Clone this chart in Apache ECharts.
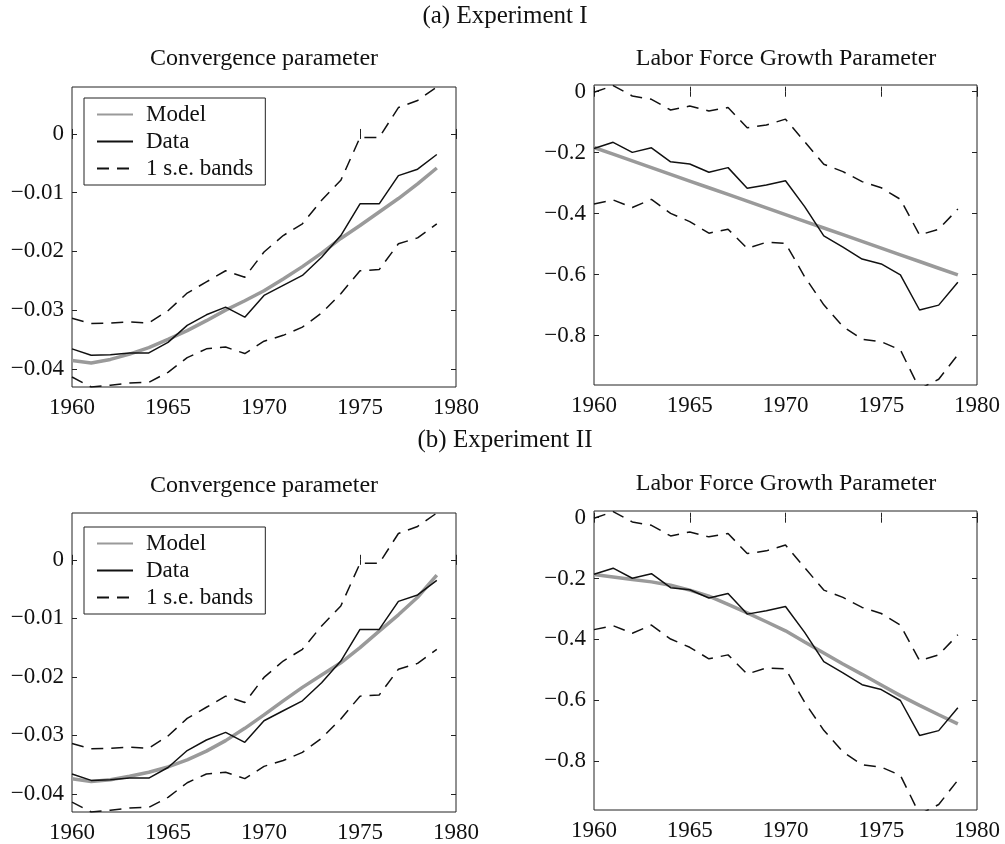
<!DOCTYPE html>
<html>
<head>
<meta charset="utf-8">
<title>Experiment I / II</title>
<script src="https://cdn.jsdelivr.net/npm/echarts@6/dist/echarts.min.js"></script>
<style>
	html, body { margin: 0; padding: 0; background: #fff; }
	#chart { width: 1005px; height: 844px; }
</style>
</head>
<body>
<div id="chart"></div>
<script>
	// years on the x axis
	var years = [1960, 1961, 1962, 1963, 1964, 1965, 1966, 1967, 1968, 1969,
		1970, 1971, 1972, 1973, 1974, 1975, 1976, 1977, 1978, 1979];

	// convergence parameter
	var convModelA = [-0.0386, -0.0390, -0.0384, -0.0375, -0.0364, -0.0350, -0.0335, -0.0318, -0.0300, -0.0284,
		-0.0267, -0.0247, -0.0226, -0.0203, -0.0178, -0.0156, -0.0133, -0.0110, -0.0085, -0.0058];
	var convModelB = [-0.0374, -0.0379, -0.0376, -0.0370, -0.0363, -0.0354, -0.0342, -0.0327, -0.0309, -0.0288,
		-0.0265, -0.0241, -0.0218, -0.0197, -0.0176, -0.0150, -0.0122, -0.0094, -0.0064, -0.0026];
	var convData = [-0.0366, -0.0377, -0.0376, -0.0373, -0.0373, -0.0355, -0.0326, -0.0308, -0.0295, -0.0312,
		-0.0275, -0.0258, -0.0241, -0.0210, -0.0173, -0.0119, -0.0119, -0.0071, -0.0060, -0.0035];
	var convUpper = [-0.0314, -0.0323, -0.0322, -0.0320, -0.0322, -0.0301, -0.0271, -0.0252, -0.0233, -0.0244,
		-0.0201, -0.0173, -0.0153, -0.0113, -0.0079, -0.0006, -0.0006, 0.0045, 0.0057, 0.0080];
	var convLower = [-0.0414, -0.0431, -0.0428, -0.0424, -0.0423, -0.0406, -0.0381, -0.0366, -0.0363, -0.0374,
		-0.0353, -0.0343, -0.0329, -0.0305, -0.0272, -0.0233, -0.0231, -0.0187, -0.0177, -0.0153];
	var convTicks = [-0.04, -0.03, -0.02, -0.01, 0];

	// labor force growth parameter
	var laborModelA = [-0.183, -0.205, -0.227, -0.249, -0.271, -0.293, -0.315, -0.337, -0.359, -0.381,
		-0.403, -0.425, -0.447, -0.469, -0.491, -0.513, -0.535, -0.557, -0.579, -0.601];
	var laborModelB = [-0.187, -0.195, -0.203, -0.211, -0.222, -0.238, -0.258, -0.285, -0.313, -0.342,
		-0.372, -0.409, -0.445, -0.481, -0.515, -0.550, -0.585, -0.617, -0.648, -0.678];
	var laborData = [-0.186, -0.166, -0.199, -0.184, -0.230, -0.237, -0.264, -0.249, -0.317, -0.306,
		-0.292, -0.377, -0.473, -0.510, -0.549, -0.565, -0.601, -0.716, -0.700, -0.625];
	var laborUpper = [-0.002, 0.020, -0.014, -0.025, -0.060, -0.047, -0.063, -0.052, -0.118, -0.109,
		-0.090, -0.164, -0.238, -0.262, -0.295, -0.315, -0.353, -0.470, -0.451, -0.385];
	var laborLower = [-0.368, -0.355, -0.380, -0.353, -0.399, -0.426, -0.464, -0.451, -0.514, -0.494,
		-0.497, -0.607, -0.699, -0.770, -0.812, -0.820, -0.847, -0.975, -0.943, -0.863];
	var laborTicks = [-0.8, -0.6, -0.4, -0.2, 0];

	var FONT = 'Liberation Serif';
	var myChart = echarts.init(document.getElementById('chart'));

	function pairs(vals) {
		return years.map(function (y, i) { return [y, vals[i]]; });
	}
	function yLabel(v) {
		if (v === 0) return '0';
		return v < 0 ? '\u2212' + String(Math.abs(v)) : String(v);
	}

	// panel boxes, in px
	var panels = [
		{ left: 72, top: 87, width: 384, height: 300, min: -0.0431, max: 0.008, ticks: convTicks,
			model: convModelA, data: convData, up: convUpper, lo: convLower },
		{ left: 594, top: 85, width: 383, height: 300, min: -0.962, max: 0.022, ticks: laborTicks,
			model: laborModelA, data: laborData, up: laborUpper, lo: laborLower },
		{ left: 72, top: 513, width: 384, height: 299, min: -0.0431, max: 0.008, ticks: convTicks,
			model: convModelB, data: convData, up: convUpper, lo: convLower },
		{ left: 594, top: 511, width: 383, height: 299, min: -0.961, max: 0.022, ticks: laborTicks,
			model: laborModelB, data: laborData, up: laborUpper, lo: laborLower }
	];

	var grid = [], xAxis = [], yAxis = [], series = [];
	panels.forEach(function (p, i) {
		grid.push({ left: p.left, top: p.top, width: p.width, height: p.height,
			show: true, borderColor: '#222', borderWidth: 1, backgroundColor: '#fff' });
		// bottom and top x axes (top one only for the inner ticks)
		[false, true].forEach(function (isTop) {
			xAxis.push({
				type: 'value', gridIndex: i, min: 1960, max: 1980, interval: 5,
				position: isTop ? 'top' : 'bottom',
				axisLine: { show: false },
				splitLine: { show: false },
				axisTick: { inside: true, length: 5, lineStyle: { color: '#222' } },
				axisLabel: { show: !isTop, margin: 9, color: '#111', fontFamily: FONT, fontSize: 23,
					formatter: function (v) { return String(v); } }
			});
		});
		// left and right y axes
		[false, true].forEach(function (isRight) {
			yAxis.push({
				type: 'value', gridIndex: i, min: p.min, max: p.max,
				position: isRight ? 'right' : 'left',
				axisLine: { show: false },
				splitLine: { show: false },
				axisTick: { inside: true, length: 5, customValues: p.ticks, lineStyle: { color: '#222' } },
				axisLabel: { show: !isRight, margin: 8, color: '#111', fontFamily: FONT, fontSize: 23,
					customValues: p.ticks, formatter: yLabel }
			});
		});
		var common = { type: 'line', xAxisIndex: 2 * i, yAxisIndex: 2 * i, symbol: 'none',
			clip: true, silent: true, animation: false };
		series.push(Object.assign({}, common, { name: 'Model', data: pairs(p.model), z: 2,
			itemStyle: { color: '#9a9a9a' },
			lineStyle: { color: '#9a9a9a', width: 3.5 } }));
		series.push(Object.assign({}, common, { name: 'Data', data: pairs(p.data), z: 3,
			itemStyle: { color: '#111' },
			lineStyle: { color: '#111', width: 1.5 } }));
		series.push(Object.assign({}, common, { name: '1 s.e. bands', data: pairs(p.up), z: 3,
			itemStyle: { color: '#111' },
			lineStyle: { color: '#111', width: 1.5, type: [12, 8] } }));
		series.push(Object.assign({}, common, { name: '1 s.e. bands', data: pairs(p.lo), z: 3,
			itemStyle: { color: '#111' },
			lineStyle: { color: '#111', width: 1.5, type: [12, 8] } }));
	});

	function legendAt(top) {
		return {
			orient: 'vertical', left: 84, top: top, selectedMode: false,
			data: ['Model', 'Data', '1 s.e. bands'],
			backgroundColor: '#fff', borderColor: '#222', borderWidth: 1,
			padding: [5, 12, 5, 12], itemGap: 4, itemWidth: 36, itemHeight: 14,
			itemStyle: { opacity: 0 },
			textStyle: { fontFamily: FONT, fontSize: 23, color: '#111', padding: [0, 0, 0, 8] }
		};
	}

	function titleAt(text, x, y, size) {
		return { text: text, left: x, top: y, textAlign: 'center', padding: 0,
			textStyle: { fontFamily: FONT, fontSize: size, fontWeight: 'normal', color: '#111' } };
	}

	myChart.setOption({
		animation: false,
		title: [
			titleAt('(a) Experiment I', 505, 4, 25),
			titleAt('Convergence parameter', 264, 47, 24),
			titleAt('Labor Force Growth Parameter', 786, 47, 24),
			titleAt('(b) Experiment II', 505, 428, 25),
			titleAt('Convergence parameter', 264, 474, 24),
			titleAt('Labor Force Growth Parameter', 786, 472, 24)
		],
		legend: [legendAt(98), legendAt(527)],
		grid: grid,
		xAxis: xAxis,
		yAxis: yAxis,
		series: series
	});

	window.addEventListener('resize', function () {
		myChart.resize();
	});
</script>
</body>
</html>
